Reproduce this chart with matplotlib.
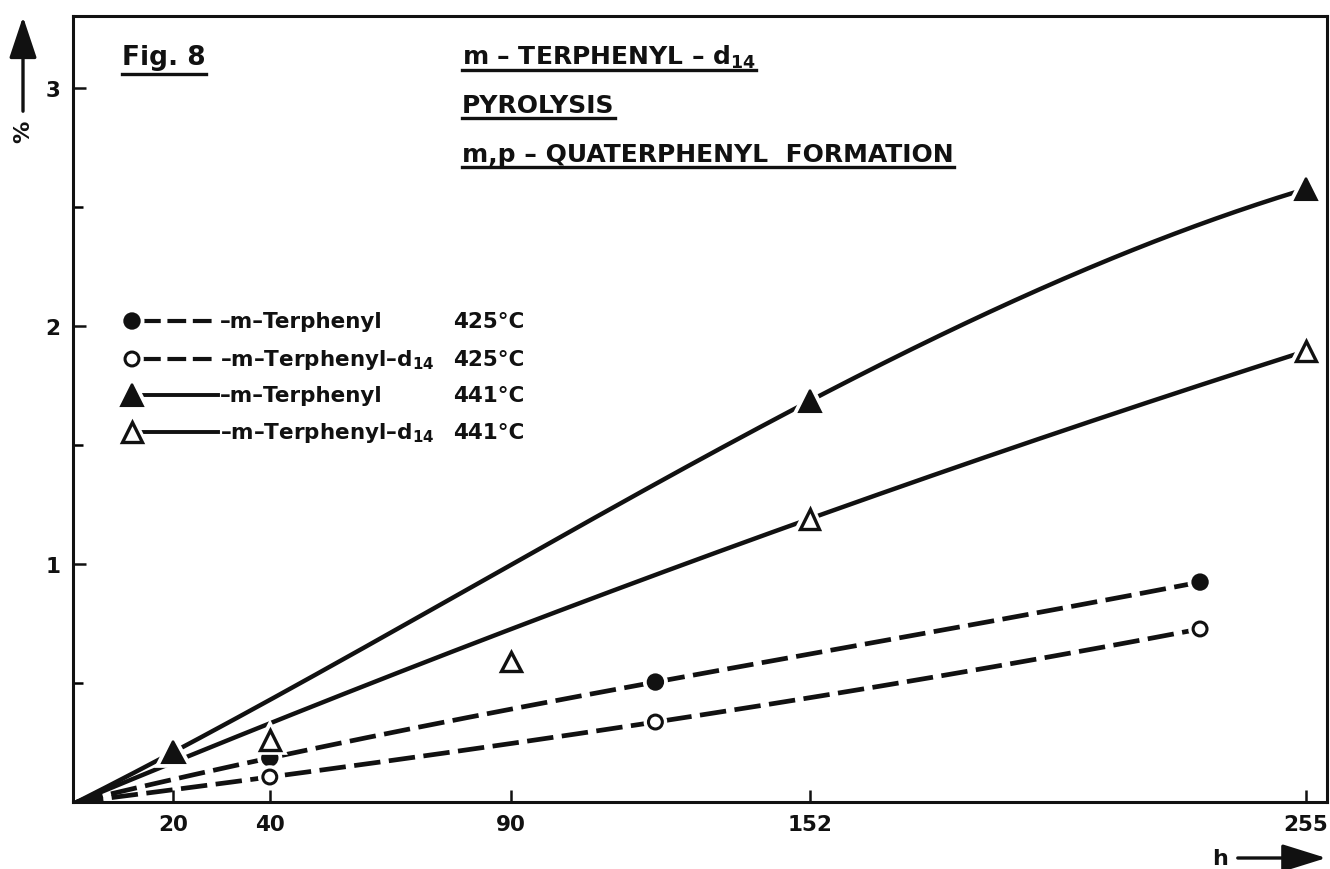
import numpy as np
import matplotlib
matplotlib.use("Agg")
import matplotlib.pyplot as plt
from matplotlib.lines import Line2D
import matplotlib.patheffects as pe

plt.rcParams['font.family'] = ['DejaVu Sans']
plt.rcParams['font.weight'] = 'bold'
plt.rcParams['mathtext.fontset'] = 'custom'
plt.rcParams['mathtext.rm'] = 'DejaVu Sans:bold'
plt.rcParams['mathtext.it'] = 'DejaVu Sans:bold'
plt.rcParams['mathtext.default'] = 'rm'

# ---------------- data ----------------
x_ticks = [20, 40, 90, 152, 255]
y_major = [1, 2, 3]
y_minor = [0.5, 1.5, 2.5]

circ_f_x = [40, 120, 233]
circ_f_y = [0.185, 0.504, 0.924]
circ_o_x = [40, 120, 233]
circ_o_y = [0.105, 0.336, 0.727]
tri_f_x = [20, 152, 255]
tri_f_y = [0.21, 1.685, 2.576]
tri_o_x = [40, 90, 152, 255]
tri_o_y = [0.26, 0.59, 1.19, 1.895]
# points the hand-drawn curve goes through (curve always starts at origin)
circ_f_on = [True, True, True]
circ_o_on = [True, True, True]
tri_f_on = [True, True, True]
tri_o_on = [False, False, True, True]

legend_names = ["–m–Terphenyl", "–m–Terphenyl–d$_{14}$", "–m–Terphenyl", "–m–Terphenyl–d$_{14}$"]
legend_temps = ["425°C", "425°C", "441°C", "441°C"]
title_lines = ["m – TERPHENYL – d$_{14}$", "PYROLYSIS", "m,p – QUATERPHENYL  FORMATION"]
fig_label = "Fig. 8"

# ---------------- figure ----------------
W, H = 1330, 870
fig = plt.figure(figsize=(W / 100, H / 100), dpi=100)
fig.patch.set_facecolor('white')

def fx(px):
    return px / W

def fy(py):
    return 1 - py / H

ax = fig.add_axes([fx(73), fy(803), (1327 - 73) / W, (803 - 17) / H])
ax.set_facecolor('white')
ax.set_xlim(-4 / 4.82, (1327 - 77) / 4.82)
ax.set_ylim(0, (803 - 17) / 238)

for s in ax.spines.values():
    s.set_linewidth(2.2)
    s.set_color('#111111')

ax.set_xticks(x_ticks)
ax.set_xticklabels([str(v) for v in x_ticks])
ax.set_yticks(y_major)
ax.set_yticklabels([str(v) for v in y_major])
ax.set_yticks(y_minor, minor=True)
ax.tick_params(axis='x', direction='in', length=9, width=1.8, labelsize=15.5, pad=9, colors='#111111')
ax.tick_params(axis='y', which='major', direction='in', length=9, width=1.8, labelsize=15.5, pad=9, colors='#111111')
ax.tick_params(axis='y', which='minor', direction='in', length=7, width=1.8)
for lab in ax.get_xticklabels() + ax.get_yticklabels():
    lab.set_fontweight('bold')

def curve(xs, ys, on):
    xs = np.asarray(xs, float)[np.asarray(on)]
    ys = np.asarray(ys, float)[np.asarray(on)]
    n = len(xs)
    A = np.vstack([xs ** k for k in range(1, n + 1)]).T
    coef = np.linalg.solve(A, ys)
    xx = np.linspace(0, np.max(xs), 300)
    yy = sum(c * xx ** (k + 1) for k, c in enumerate(coef))
    return xx, yy

dash = (5.6, 1.8)
series = [
    (circ_f_x, circ_f_y, circ_f_on, 'dashed', dict(marker='o', ms=11, mfc='#111111', mec='#111111', mew=1.5)),
    (circ_o_x, circ_o_y, circ_o_on, 'dashed', dict(marker='o', ms=10, mfc='white', mec='#111111', mew=2.2)),
    (tri_f_x, tri_f_y, tri_f_on, 'solid', dict(marker='^', ms=16, mfc='#111111', mec='#111111', mew=1.5)),
    (tri_o_x, tri_o_y, tri_o_on, 'solid', dict(marker='^', ms=14, mfc='white', mec='#111111', mew=2.4)),
]
halo = [pe.withStroke(linewidth=7, foreground='white')]
for xs, ys, on, style, mk in series:
    xx, yy = curve(xs, ys, on)
    if style == 'dashed':
        ax.plot(xx, yy, color='#111111', lw=3.4, dashes=dash, solid_capstyle='butt', zorder=2)
    else:
        ax.plot(xx, yy, color='#111111', lw=3.2, zorder=2)
    ax.plot(xs, ys, ls='none', zorder=3, path_effects=halo, clip_on=False, **mk)

# ---------------- legend (drawn by hand) ----------------
row_y = [322, 360, 396, 433]
for i, (name, temp) in enumerate(zip(legend_names, legend_temps)):
    style, mk = series[i][3], series[i][4]
    ly = fy(row_y[i])
    if style == 'dashed':
        fig.add_artist(Line2D([fx(142), fx(218)], [ly, ly], color='#111111', lw=3.0,
                              dashes=(4.5, 1.6), transform=fig.transFigure))
    else:
        fig.add_artist(Line2D([fx(142), fx(218)], [ly, ly], color='#111111', lw=2.8,
                              transform=fig.transFigure))
    m = Line2D([fx(132)], [ly], ls='none', transform=fig.transFigure, path_effects=halo, **mk)
    fig.add_artist(m)
    fig.text(fx(220), ly, name, fontsize=15.5, fontweight='bold', va='center', ha='left', color='#111111')
    fig.text(fx(453), ly, temp, fontsize=15.5, fontweight='bold', va='center', ha='left', color='#111111')

# ---------------- titles ----------------
renderer = fig.canvas.get_renderer()

def underlined(px, base_py, text, size, under_gap):
    t = fig.text(fx(px), fy(base_py), text, fontsize=size, fontweight='bold',
                 va='baseline', ha='left', color='#111111')
    bb = t.get_window_extent(renderer)
    yl = fy(base_py + under_gap)
    fig.add_artist(Line2D([bb.x0 / W, bb.x1 / W], [yl, yl], color='#111111', lw=2.4,
                          transform=fig.transFigure))
    return t

underlined(122, 65, fig_label, 19, 10)
title_base = [65, 113, 162]
for tl, b in zip(title_lines, title_base):
    underlined(462, b, tl, 18, 6)

# ---------------- axis arrows ----------------
fig.add_artist(matplotlib.patches.FancyArrowPatch(
    (fx(23), fy(115)), (fx(23), fy(15)), transform=fig.transFigure,
    arrowstyle='-|>,head_length=1.5,head_width=0.5', mutation_scale=17, lw=2.4, color='#111111'))
fig.text(fx(23), fy(132), "%", rotation=90, fontsize=16, fontweight='bold',
         ha='center', va='center', color='#111111')

fig.add_artist(matplotlib.patches.FancyArrowPatch(
    (fx(1235), fy(859)), (fx(1329), fy(859)), transform=fig.transFigure,
    arrowstyle='-|>,head_length=1.6,head_width=0.5', mutation_scale=17, lw=2.4, color='#111111'))
fig.text(fx(1220), fy(859), "h", fontsize=16, fontweight='bold', ha='center', va='center', color='#111111')

fig.savefig("out.png", dpi=100, facecolor='white')
